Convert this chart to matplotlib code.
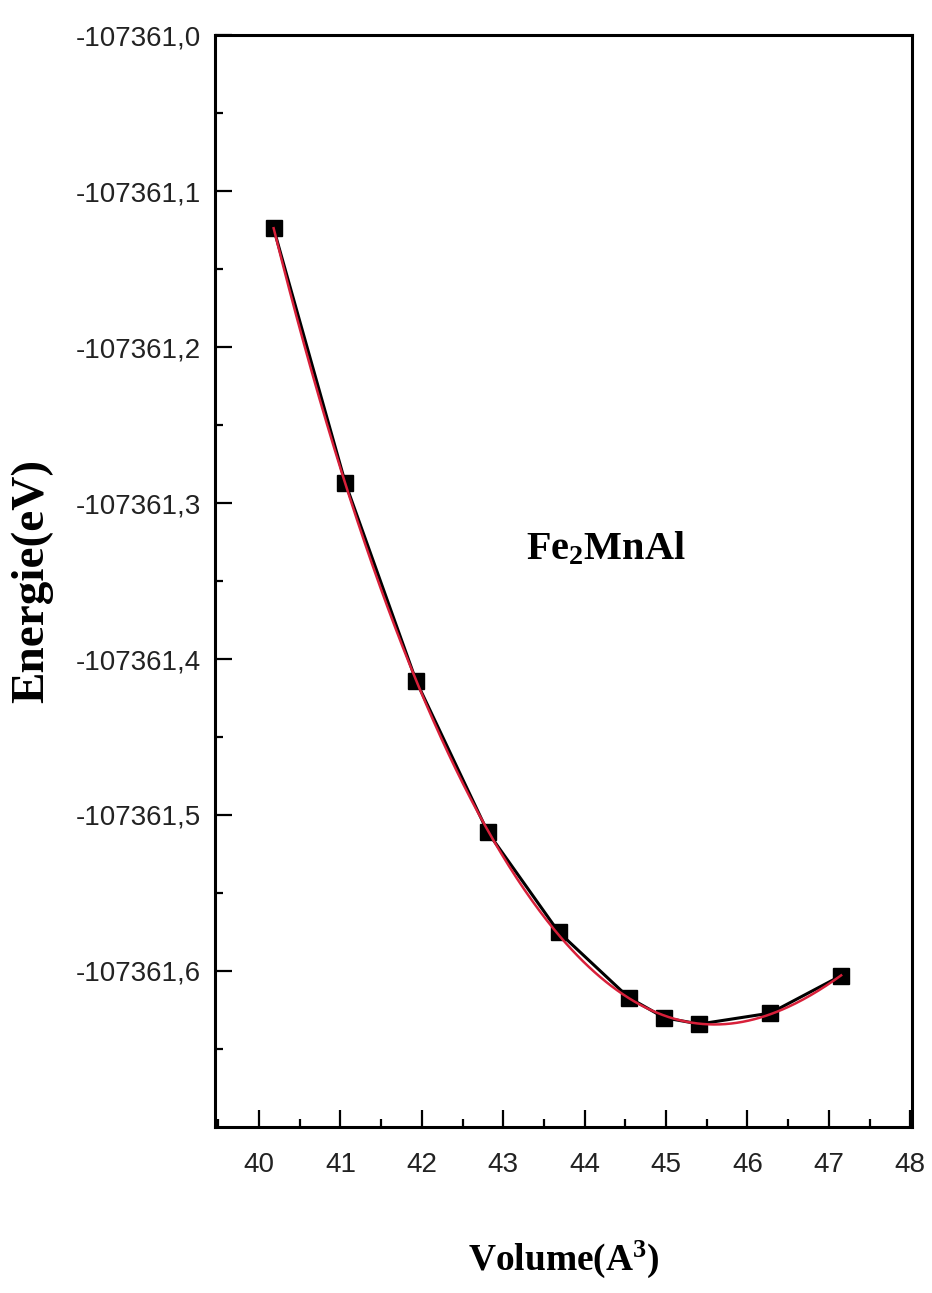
import numpy as np
import matplotlib.pyplot as plt
from matplotlib.ticker import MultipleLocator, FuncFormatter

# Volume (A^3) and total energy (eV) for Fe2MnAl
volume = np.array([40.18, 41.06, 41.93, 42.81, 43.68, 44.54, 44.98, 45.41, 46.28, 47.15])
energy = np.array([-107361.124, -107361.287, -107361.414, -107361.511, -107361.575,
                   -107361.617, -107361.630, -107361.634, -107361.627, -107361.603])

plt.rcParams['mathtext.fontset'] = 'custom'
plt.rcParams['mathtext.rm'] = 'Liberation Serif:bold'
plt.rcParams['mathtext.it'] = 'Liberation Serif:bold'
plt.rcParams['mathtext.bf'] = 'Liberation Serif:bold'

tick_font = ['Liberation Sans Narrow', 'Liberation Sans', 'DejaVu Sans']
label_font = ['Liberation Serif', 'DejaVu Serif']

fig = plt.figure(figsize=(9.32, 12.93), dpi=100)
ax = fig.add_axes([0.2307, 0.1284, 0.7478, 0.8445])

# fitted E(V) curve (polynomial fit of the computed points)
coef = np.polyfit(volume - volume.mean(), energy - energy.mean(), 5)
v_fit = np.linspace(volume.min(), volume.max(), 300)
e_fit = np.polyval(coef, v_fit - volume.mean()) + energy.mean()

ax.plot(volume, energy, color='black', lw=2.2, marker='s', ms=11, zorder=2)
ax.plot(v_fit, e_fit, color='#d8203a', lw=1.8, zorder=3)

ax.set_xlim(39.46, 48.02)
ax.set_ylim(-107361.7, -107361.0)

ax.xaxis.set_major_locator(MultipleLocator(1))
ax.xaxis.set_minor_locator(MultipleLocator(0.5))
ax.set_yticks(np.round(np.arange(-107361.6, -107360.99, 0.1), 1))
ax.set_yticks(np.round(np.arange(-107361.65, -107360.99, 0.05), 2), minor=True)
ax.yaxis.set_major_formatter(FuncFormatter(lambda v, p: f"{v:.1f}".replace('.', ',')))
ax.xaxis.set_major_formatter(FuncFormatter(lambda v, p: f"{v:.0f}"))

ax.tick_params(which='both', direction='in', top=False, right=False, width=1.6)
ax.tick_params(which='major', length=12)
ax.tick_params(which='minor', length=6)
ax.tick_params(axis='x', which='major', pad=18)
ax.tick_params(axis='y', which='major', pad=10)
for lab in ax.get_xticklabels() + ax.get_yticklabels():
    lab.set_family(tick_font)
    lab.set_fontsize(20)
    lab.set_color('#222222')

for sp in ax.spines.values():
    sp.set_linewidth(2.2)

ax.set_xlabel('Volume(A$^\\mathregular{3}$)', family=label_font, fontweight='bold',
              fontsize=27, labelpad=44)
ax.set_ylabel('Energie(eV)', family=label_font, fontweight='bold', fontsize=34, labelpad=16)
ax.text(44.26, -107361.33, 'Fe$_\\mathregular{2}$MnAl', family=label_font, fontweight='bold',
        fontsize=29, ha='center', va='center')

fig.savefig('out.png', dpi=100)
